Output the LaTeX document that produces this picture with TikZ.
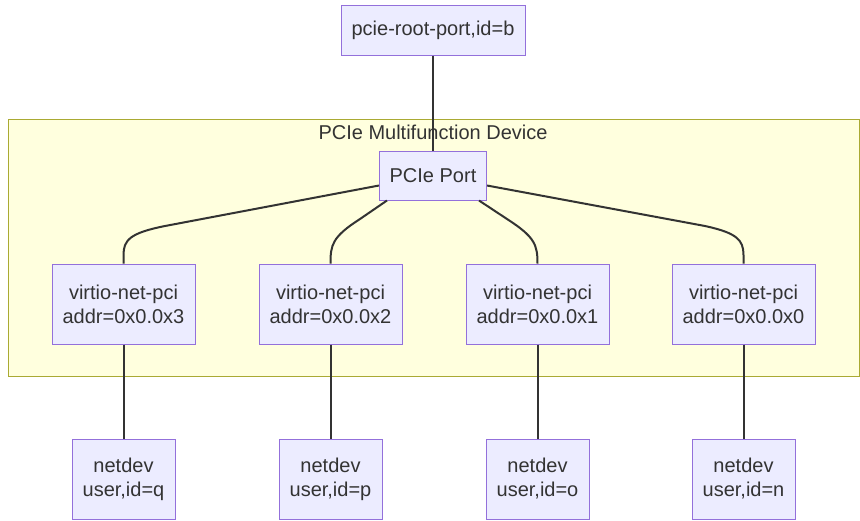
\documentclass[tikz,border=0pt]{standalone}
\usepackage{fontspec}
\setmainfont{Liberation Sans}
\definecolor{nodefill}{HTML}{ECECFF}
\definecolor{nodeline}{HTML}{9370DB}
\definecolor{txt}{HTML}{333333}
\definecolor{clfill}{HTML}{FFFFDE}
\definecolor{clline}{HTML}{AAAA33}
\begin{document}
\begin{tikzpicture}[x=1pt,y=-1pt,
  box/.style={draw=nodeline,fill=nodefill,line width=1pt,text=txt,align=center,
    font=\fontsize{20}{24}\selectfont,inner sep=0pt},
  conn/.style={draw=txt,line width=2pt}]
\useasboundingbox (0,0) rectangle (860,520);
\fill[white] (0,0) rectangle (860,520);
\draw[fill=clfill,draw=clline,line width=1pt] (8,119) rectangle (859,376);
\node[text=txt,font=\fontsize{20}{24}\selectfont] (title) at (433,132) {PCIe Multifunction Device};

\node[box,minimum width=184pt,minimum height=50pt] (root) at (433,30) {pcie-root-port,id=b};
\node[box,minimum width=107pt,minimum height=49pt] (port) at (433,175.5) {PCIe Port};

\node[box,minimum width=143pt,minimum height=80pt] (v3) at (123.5,304) {virtio-net-pci\\addr=0x0.0x3};
\node[box,minimum width=143pt,minimum height=80pt] (v2) at (330.5,304) {virtio-net-pci\\addr=0x0.0x2};
\node[box,minimum width=143pt,minimum height=80pt] (v1) at (537.5,304) {virtio-net-pci\\addr=0x0.0x1};
\node[box,minimum width=143pt,minimum height=80pt] (v0) at (743.5,304) {virtio-net-pci\\addr=0x0.0x0};

\node[box,minimum width=103pt,minimum height=80pt] (nq) at (123.5,479) {netdev\\user,id=q};
\node[box,minimum width=103pt,minimum height=80pt] (np) at (330.5,479) {netdev\\user,id=p};
\node[box,minimum width=103pt,minimum height=80pt] (no) at (537.5,479) {netdev\\user,id=o};
\node[box,minimum width=103pt,minimum height=80pt] (nn) at (743.5,479) {netdev\\user,id=n};

\draw[conn] (root.south) -- (port.north);
\draw[conn] ([yshift=-10pt]port.west) -- (165,226) .. controls (130,233) and (123.5,240) .. (123.5,255) -- (v3.north);
\draw[conn] ([xshift=8pt]port.south west) -- (360,219) .. controls (332,237) and (330.5,245) .. (v2.north);
\draw[conn] ([xshift=-8pt]port.south east) -- (507,219) .. controls (535,237) and (537.5,245) .. (v1.north);
\draw[conn] ([yshift=-10pt]port.east) -- (705,226) .. controls (737,233) and (743.5,240) .. (743.5,255) -- (v0.north);

\draw[conn] (v3.south) -- (nq.north);
\draw[conn] (v2.south) -- (np.north);
\draw[conn] (v1.south) -- (no.north);
\draw[conn] (v0.south) -- (nn.north);
\end{tikzpicture}
\end{document}
